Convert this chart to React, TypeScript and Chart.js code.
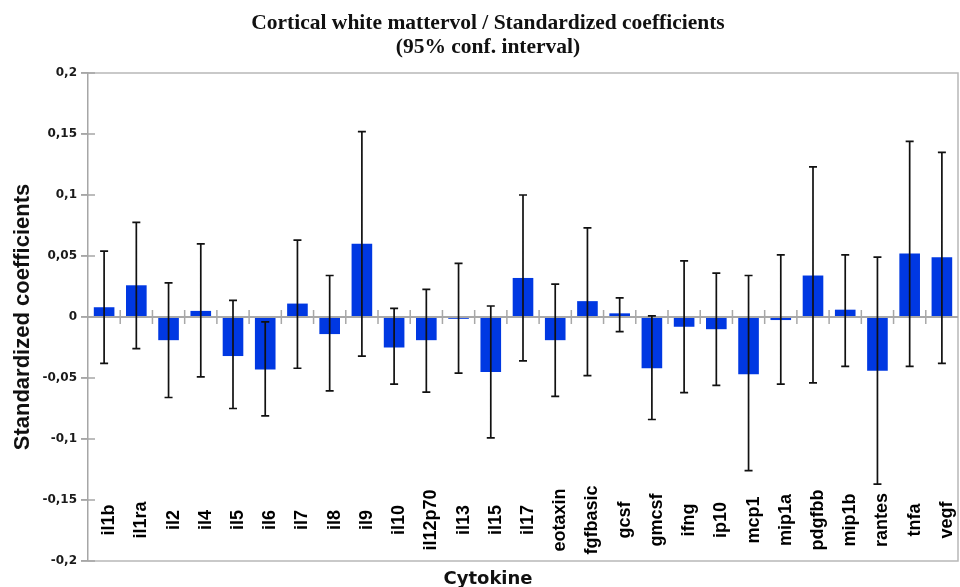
import React, { useEffect, useRef } from "react";
import { Chart, registerables } from "chart.js";

Chart.register(...registerables);

const cytokines = [
  "il1b", "il1ra", "il2", "il4", "il5", "il6", "il7", "il8", "il9", "il10",
  "il12p70", "il13", "il15", "il17", "eotaxin", "fgfbasic", "gcsf", "gmcsf",
  "ifng", "ip10", "mcp1", "mip1a", "pdgfbb", "mip1b", "rantes", "tnfa", "vegf",
];
const coefficients = [
  0.008, 0.026, -0.019, 0.005, -0.032, -0.043, 0.011, -0.014, 0.06, -0.025,
  -0.019, -0.0015, -0.045, 0.032, -0.019, 0.013, 0.003, -0.042,
  -0.008, -0.01, -0.047, -0.0025, 0.034, 0.006, -0.044, 0.052, 0.049,
];
const ciUpper = [
  0.054, 0.0775, 0.028, 0.06, 0.0137, -0.004, 0.063, 0.034, 0.152, 0.007,
  0.0227, 0.044, 0.009, 0.1, 0.027, 0.073, 0.0156, 0.001,
  0.046, 0.036, 0.034, 0.051, 0.123, 0.051, 0.049, 0.144, 0.135,
];
const ciLower = [
  -0.038, -0.026, -0.066, -0.049, -0.075, -0.081, -0.042, -0.0605, -0.032, -0.055,
  -0.0616, -0.046, -0.099, -0.036, -0.065, -0.048, -0.012, -0.084,
  -0.062, -0.056, -0.126, -0.055, -0.054, -0.0405, -0.137, -0.0405, -0.038,
];
const yTickLabels = ["-0,2", "-0,15", "-0,1", "-0,05", "0", "0,05", "0,1", "0,15", "0,2"];
const titleLines = ["Cortical white mattervol / Standardized coefficients", "(95% conf. interval)"];
const xAxisTitle = "Cytokine";
const yAxisTitle = "Standardized coefficients";

const decorPlugin = {
  id: "decor",
  afterDatasetsDraw(chart: any) {
    const { ctx, chartArea: ca, scales } = chart;
    const xs = scales.x;
    const ys = scales.y;
    const y0 = ys.getPixelForValue(0);
    const n = cytokines.length;
    ctx.save();

    // frame
    ctx.strokeStyle = "#b8b8b8";
    ctx.lineWidth = 1.5;
    ctx.beginPath();
    ctx.moveTo(ca.left, ca.top);
    ctx.lineTo(ca.right, ca.top);
    ctx.lineTo(ca.right, ca.bottom);
    ctx.lineTo(ca.left, ca.bottom);
    ctx.stroke();

    // y tick marks crossing the axis
    ctx.strokeStyle = "#a6a6a6";
    ctx.beginPath();
    for (const t of ys.ticks) {
      const py = ys.getPixelForValue(t.value);
      ctx.moveTo(ca.left - 7, py);
      ctx.lineTo(ca.left + 7, py);
    }
    ctx.stroke();

    // zero line
    ctx.strokeStyle = "#a8a8a8";
    ctx.lineWidth = 2;
    ctx.beginPath();
    ctx.moveTo(ca.left, y0);
    ctx.lineTo(ca.right, y0);
    ctx.stroke();

    // category ticks on zero line
    ctx.lineWidth = 1.5;
    ctx.beginPath();
    for (let i = 1; i < n; i++) {
      const px = (xs.getPixelForValue(i - 1) + xs.getPixelForValue(i)) / 2;
      ctx.moveTo(px, y0 - 7);
      ctx.lineTo(px, y0 + 7);
    }
    ctx.stroke();

    // error bars
    const meta = chart.getDatasetMeta(0);
    ctx.strokeStyle = "#111111";
    ctx.lineWidth = 1.7;
    ctx.beginPath();
    meta.data.forEach((bar: any, i: number) => {
      const px = bar.x;
      const top = ys.getPixelForValue(ciUpper[i]);
      const bot = ys.getPixelForValue(ciLower[i]);
      ctx.moveTo(px, top);
      ctx.lineTo(px, bot);
      ctx.moveTo(px - 4, top);
      ctx.lineTo(px + 4, top);
      ctx.moveTo(px - 4, bot);
      ctx.lineTo(px + 4, bot);
    });
    ctx.stroke();

    // category labels (inside plot, rotated)
    ctx.fillStyle = "#000000";
    ctx.font = "bold 18px 'Liberation Sans'";
    ctx.textAlign = "center";
    ctx.textBaseline = "middle";
    meta.data.forEach((bar: any, i: number) => {
      ctx.save();
      ctx.translate(bar.x + 5, 520);
      ctx.rotate(-Math.PI / 2);
      ctx.fillText(cytokines[i], 0, 0);
      ctx.restore();
    });

    // x axis title
    ctx.font = "bold 18px 'DejaVu Sans'";
    ctx.textBaseline = "alphabetic";
    ctx.fillStyle = "#111111";
    ctx.fillText(xAxisTitle, 488, 584);

    // chart title
    ctx.font = "bold 21.5px 'Liberation Serif'";
    ctx.fillStyle = "#111111";
    ctx.fillText(titleLines[0], 488, 29);
    ctx.fillText(titleLines[1], 488, 53);

    ctx.restore();
  },
};

export default function App() {
  const ref = useRef<HTMLCanvasElement | null>(null);
  useEffect(() => {
    if (!ref.current) return;
    const chart = new Chart(ref.current, {
      type: "bar",
      data: {
        labels: cytokines,
        datasets: [
          {
            data: coefficients,
            backgroundColor: "#0038e2",
            borderWidth: 0,
            barPercentage: 0.64,
            categoryPercentage: 1,
          },
        ],
      },
      options: {
        animation: false,
        responsive: false,
        layout: { padding: { left: 0, right: 2, top: 73, bottom: 26 } },
        plugins: { legend: { display: false }, tooltip: { enabled: false }, title: { display: false } },
        scales: {
          x: { display: false },
          y: {
            min: -0.2,
            max: 0.2,
            ticks: {
              stepSize: 0.05,
              callback: (_v: any, i: number) => yTickLabels[i],
              font: { family: "'DejaVu Sans'", weight: "bold", size: 12 },
              color: "#1a1a1a",
              padding: 4,
            },
            grid: { drawOnChartArea: false, tickLength: 7, color: "#a6a6a6", lineWidth: 1.5 },
            border: { color: "#a6a6a6", width: 1.5 },
            title: {
              display: true,
              text: yAxisTitle,
              font: { family: "'Liberation Sans'", weight: "bold", size: 22 },
              color: "#111111",
              padding: { top: 10, bottom: 0 },
            },
            afterFit: (s: any) => {
              s.width = 88;
            },
          },
        },
      },
      plugins: [decorPlugin],
    });
    return () => chart.destroy();
  }, []);
  return (
    <div style={{ position: "absolute", left: 0, top: 0, width: 960, height: 587, background: "#fff" }}>
      <canvas ref={ref} width={960} height={587} />
    </div>
  );
}
